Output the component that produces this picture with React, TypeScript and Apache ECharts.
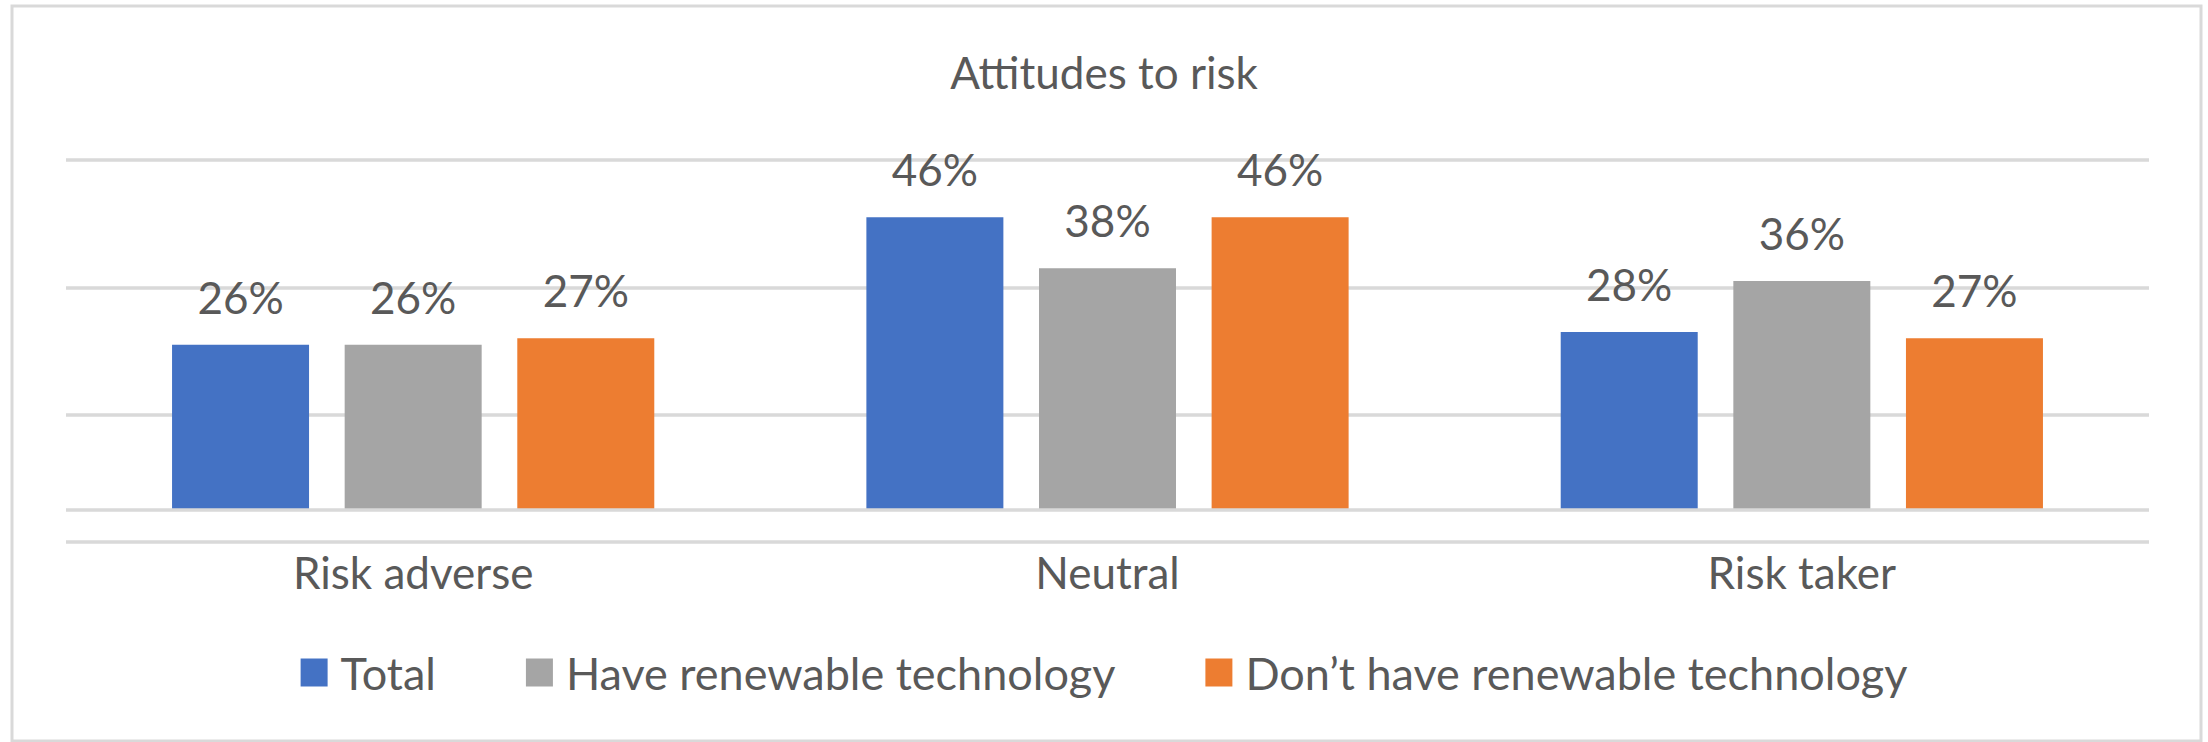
import React, { useEffect, useRef } from "react";
import * as echarts from "echarts";

const categories = ["Risk adverse", "Neutral", "Risk taker"];
const seriesNames = ["Total", "Have renewable technology", "Don’t have renewable technology"];
const totalValues = [0.26, 0.46, 0.28];
const haveValues = [0.26, 0.38, 0.36];
const dontHaveValues = [0.27, 0.46, 0.27];
const seriesColors = ["#4472C4", "#A5A5A5", "#ED7D31"];
const yMin = -0.05;
const yMax = 0.55;
const yInterval = 0.2;

const FONT = "Lato";
const TEXT_COLOR = "#595959";
const GRID_COLOR = "#D9D9D9";

export default function App() {
  const ref = useRef<HTMLDivElement>(null);
  useEffect(() => {
    const chart = echarts.init(ref.current as HTMLDivElement, null, {
      renderer: "svg",
      width: 2208,
      height: 742,
    });
    const allValues = [totalValues, haveValues, dontHaveValues];
    const series = allValues.map((vals, i) => ({
      name: seriesNames[i],
      type: "bar",
      data: vals,
      barWidth: 137,
      barGap: "26%",
      itemStyle: { color: seriesColors[i] },
      label: {
        show: true,
        position: "top",
        distance: 26,
        fontSize: 44,
        fontFamily: FONT,
        color: TEXT_COLOR,
        formatter: (p: any) => Math.round(p.value * 100) + "%",
      },
      emphasis: { disabled: true },
      ...(i === 0
        ? {
            markLine: {
              silent: true,
              symbol: "none",
              label: { show: false },
              lineStyle: { color: GRID_COLOR, width: 3.5, type: "solid" },
              data: [{ yAxis: 0 }],
            },
          }
        : {}),
    }));

    chart.setOption({
      animation: false,
      backgroundColor: "#ffffff",
      textStyle: { fontFamily: FONT },
      title: {
        text: "Attitudes to risk",
        left: "center",
        top: 50,
        padding: 0,
        textStyle: {
          fontSize: 44,
          fontWeight: "normal",
          color: TEXT_COLOR,
          fontFamily: FONT,
        },
      },
      legend: {
        data: seriesNames,
        left: "center",
        top: 650,
        padding: 0,
        icon: "rect",
        itemWidth: 27,
        itemHeight: 28,
        itemGap: 90,
        textStyle: {
          fontSize: 45,
          color: TEXT_COLOR,
          fontFamily: FONT,
          padding: [0, 0, 0, 8],
        },
      },
      grid: { left: 66, right: 59, top: 160, bottom: 200, containLabel: false },
      xAxis: {
        type: "category",
        data: categories,
        axisLine: { show: false, onZero: false },
        axisTick: { show: false },
        axisLabel: {
          margin: 8,
          fontSize: 44,
          color: TEXT_COLOR,
          fontFamily: FONT,
        },
      },
      yAxis: {
        type: "value",
        min: yMin,
        max: yMax,
        interval: yInterval,
        axisLine: { show: false },
        axisTick: { show: false },
        axisLabel: { show: false },
        splitLine: { show: true, lineStyle: { color: GRID_COLOR, width: 3.5 } },
      },
      graphic: [
        {
          type: "rect",
          shape: { x: 12, y: 6, width: 2189, height: 735 },
          style: { fill: "none", stroke: GRID_COLOR, lineWidth: 3 },
          silent: true,
        },
      ],
      series,
    });
    return () => chart.dispose();
  }, []);
  return (
    <div
      ref={ref}
      style={{ position: "absolute", left: 0, top: 0, width: 2208, height: 742, background: "#fff" }}
    />
  );
}
